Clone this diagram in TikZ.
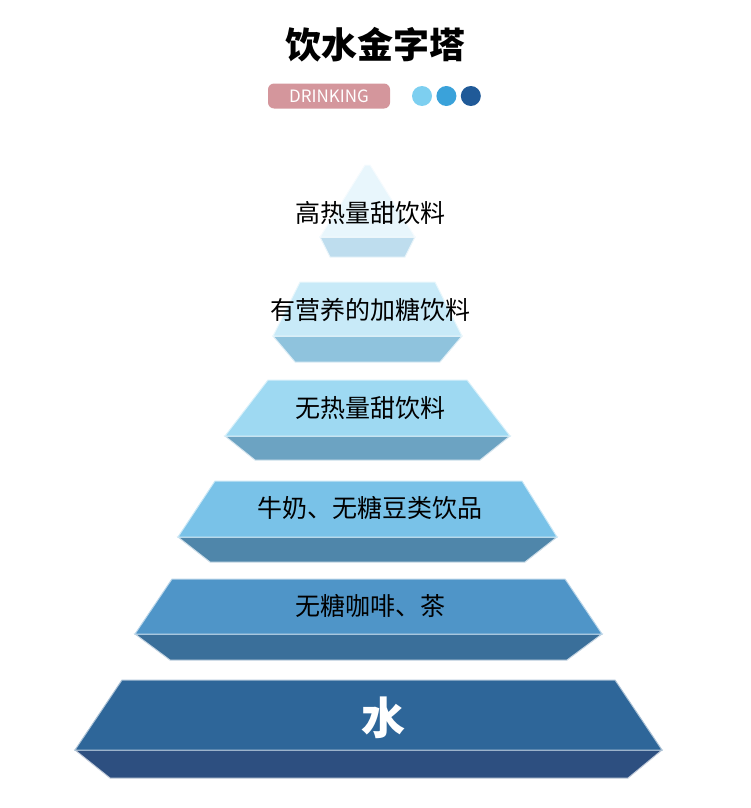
\documentclass[tikz,border=0pt]{standalone}
\usepackage{fontspec}
\setmainfont{Noto Sans CJK SC}
\usetikzlibrary{positioning}
\definecolor{pillpink}{HTML}{D4969C}
\definecolor{dotA}{HTML}{7DCFF0}
\definecolor{dotB}{HTML}{3AA2DA}
\definecolor{dotC}{HTML}{205A98}
\tikzset{
  tierlabel/.style={font=\fontsize{25}{30}\selectfont, text=black},
  dot/.style={circle, minimum size=20pt, inner sep=0pt}
}
\begin{document}
\begin{tikzpicture}[x=1pt,y=-1pt]
\useasboundingbox (0,0) rectangle (750,808);
\node (title) at (375,45) {\fontsize{36}{40}\selectfont\bfseries 饮水金字塔};
\node (pill) [fill=pillpink, rounded corners=6pt, minimum width=122pt, minimum height=25pt, inner sep=0pt,
  text=white, font=\fontsize{17}{20}\selectfont] at (329,96) {DRINKING};
\node (d1) [dot, fill=dotA] at (422,96) {};
\node (d2) [dot, fill=dotB, right=4pt of d1] {};
\node (d3) [dot, fill=dotC, right=4pt of d2] {};

% tiers: top y, top left, top right, mid y, mid left, mid right, low y, low left, low right, face, underside
\foreach \ty/\tl/\tr/\my/\ml/\mr/\ly/\ll/\lr/\fc/\uc in {
  165/365/370/237/320/415/257/330/405/E8F6FC/BEDDEE,
  282/300/435/336/273/462/362/295/440/C8EAF8/8FC3DD,
  380/268/467/436/225/510/460/255/480/9ED9F2/6CA3C2,
  481/215/522/537/178/557/562/210/525/79C2E8/4F86AA,
  579/172/565/634/135/602/660/170/567/4F95C8/3A6F9A,
  680/122/615/750/75/662/778/110/628/2E6699/2D4F80}{
  \definecolor{facecol}{HTML}{\fc}
  \definecolor{undercol}{HTML}{\uc}
  \fill[undercol, draw=white!70!undercol, line width=1pt] (\ml,\my) -- (\mr,\my) -- (\lr,\ly) -- (\ll,\ly) -- cycle;
  \fill[facecol, draw=white!60!facecol, line width=1pt] (\tl,\ty) -- (\tr,\ty) -- (\mr,\my) -- (\ml,\my) -- cycle;
}
\node (t1) [tierlabel] at (370,213) {高热量甜饮料};
\node (t2) [tierlabel] at (370,310) {有营养的加糖饮料};
\node (t3) [tierlabel] at (370,408) {无热量甜饮料};
\node (t4) [tierlabel] at (370,508) {牛奶、无糖豆类饮品};
\node (t5) [tierlabel] at (370,606) {无糖咖啡、茶};
\node (t6) [font=\fontsize{44}{50}\selectfont\bfseries, text=white] at (383,718) {水};
\end{tikzpicture}
\end{document}
